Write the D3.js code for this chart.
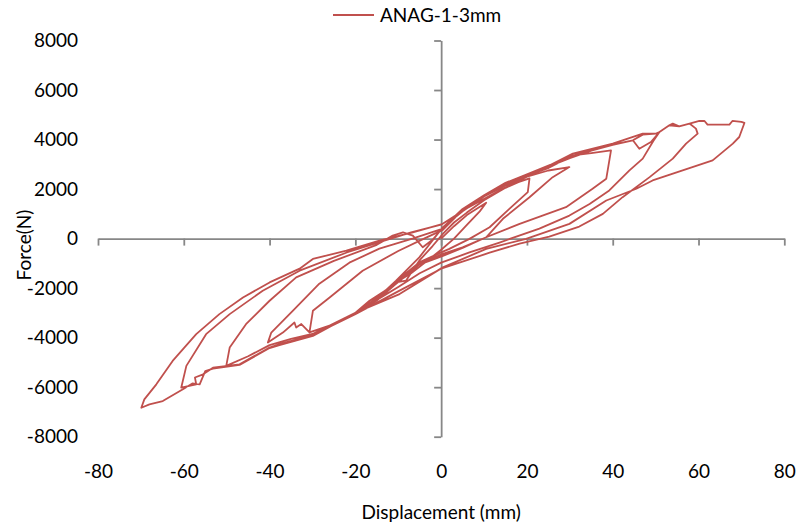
<!DOCTYPE html>
<html><head><meta charset="utf-8">
<script src="https://cdn.jsdelivr.net/npm/d3@7"></script>
<style>
html,body{margin:0;padding:0;background:#fff;}
text{font-family:Lato,"Open Sans",sans-serif;}
</style></head>
<body><svg id="c" width="796" height="526"></svg>
<script>
// ---- data ----
const seriesName = "ANAG-1-3mm";
const xTicks = [-80,-60,-40,-20,0,20,40,60,80];
const yTicks = [-8000,-6000,-4000,-2000,0,2000,4000,6000,8000];
const xTitle = "Displacement (mm)";
const yTitle = "Force(N)";
// [displacement (mm), force (N)] pairs, cycle by cycle
const cycle10 = [[0,0],[3,500],[6,950],[10.5,1450],[9,1100],[6,550],[3,0],[0,-450],[-4,-1000],[-7,-1400],[-10.5,-1770],[-8.2,-1700],[-6.5,-1250],[-5.1,-890],[-2,-300],[0.4,190]];
const cycle20 = [[3,650],[6,1050],[10,1550],[15,2050],[18,2280],[20.6,2430],[20.2,1875],[15.9,1200],[11.3,458],[6.6,-12],[1.9,-417],[0,-555],[-5.1,-960],[-10,-1650],[-15,-2400],[-19.9,-2980],[-16.7,-2511],[-13,-2100],[-10.5,-1700],[-5.1,-757],[0.4,458]];
const cycle30 = [[5,1100],[10,1700],[15,2150],[20,2500],[25,2750],[29.9,2890],[26,2480],[20.6,1670],[14.4,800],[10.5,53],[5,-380],[0.4,-700],[-5.1,-1050],[-10,-1750],[-15,-2450],[-20,-3000],[-25,-3450],[-30.7,-3790],[-29.9,-2916],[-26,-2377],[-18.3,-1296],[-10,-500],[-4,0],[0.4,350]];
const cycle40 = [[5,1150],[10,1700],[15,2200],[20,2550],[25,2850],[30.7,3360],[35,3450],[39.6,3560],[38.5,2418],[35.3,2013],[29.1,1268],[18.3,595],[10.5,53],[5,-350],[0.4,-620],[-5.1,-1000],[-10,-1750],[-15,-2500],[-20,-3000],[-25,-3450],[-30.7,-3790],[-32.6,-3450],[-33.8,-3590],[-34.2,-3390],[-36.9,-3795],[-40.4,-4200],[-39.6,-3795],[-34.6,-2916],[-28.4,-1823],[-21.4,-972],[-14.4,-405],[-6.7,0],[0.4,400]];
const cycle50 = [[5,1200],[10,1750],[15,2200],[20,2550],[25,2900],[30,3250],[35,3550],[40,3780],[44.7,3970],[47,4200],[50.1,4240],[50.9,4305],[49.5,3950],[47,3230],[43.9,2754],[39.2,1944],[34.6,1400],[29.9,930],[22.9,405],[13.6,-160],[6.6,-560],[0,-970],[-5,-1400],[-10,-1950],[-20,-3000],[-30,-3850],[-35,-4050],[-40,-4300],[-45,-4750],[-50.1,-5140],[-49.3,-4400],[-45.5,-3455],[-40,-2510],[-33.8,-1567],[-25,-900],[-15,-250],[-11.3,120],[-8.9,255],[-6.6,120],[-4.3,-350],[-2,-50],[0.4,450]];
const cycle60 = [[5,1200],[10,1750],[15,2250],[20,2600],[25,2950],[30,3300],[35,3600],[40,3800],[44.7,3970],[46.2,3630],[48.9,3900],[50.9,4305],[53.2,4577],[55.5,4536],[57.9,4645],[59.4,4440],[59.8,4240],[57.1,3835],[54,3228],[48.6,2483],[42.3,1673],[37.7,1000],[32.2,486],[25.2,81],[18.3,-200],[11.3,-570],[0,-1215],[-9.7,-2100],[-20,-3050],[-30,-3900],[-37.7,-4265],[-40,-4400],[-47,-5075],[-53.2,-5212],[-55.5,-5480],[-57.4,-5610],[-57.1,-5885],[-60.6,-6020],[-59.4,-5140],[-54.8,-3860],[-49.3,-3050],[-41.6,-2106],[-33,-1296],[-22,-560],[-14,-120],[-7,250],[0,560]];
const cycle70 = [[5.8,1203],[13.6,1944],[21.4,2620],[30.7,3430],[40,3835],[47,4240],[50.1,4240],[50.9,4305],[53.2,4577],[54,4645],[55.5,4536],[57.9,4645],[60.2,4750],[61.4,4750],[62.1,4605],[67.2,4605],[67.9,4750],[70,4710],[70.7,4670],[69.5,4103],[68,3835],[63.3,3159],[56.3,2754],[49.3,2349],[45.5,2013],[38.5,1539],[29.9,595],[19.8,-12],[10.5,-417],[0.4,-1162],[-9.7,-2240],[-19.8,-2980],[-29.9,-3929],[-37.7,-4300],[-40,-4420],[-47,-5100],[-53.2,-5250],[-55,-5350],[-56.3,-5885],[-58,-5850],[-60.2,-6087],[-64.9,-6561],[-68,-6695],[-69.9,-6832],[-69.2,-6492],[-66.4,-5885],[-62.6,-4941],[-57.1,-3860],[-51.7,-3050],[-46.2,-2377],[-40,-1770],[-33,-1215],[-29.9,-822],[-22.1,-486],[-14.4,-81],[-6.6,255],[0.4,595]];
const cycles = [cycle10, cycle20, cycle30, cycle40, cycle50, cycle60, cycle70];

// ---- drawing ----
const svg = d3.select("#c");
const x = d3.scaleLinear().domain([-80,80]).range([98,784.3]);
const y = d3.scaleLinear().domain([-8000,8000]).range([436.7,40.5]);
const axisColor = "#878787";
const fs = 19;
const fmt = d => String(d);

const yAxis = svg.append("g").attr("transform",`translate(${x(0)},0)`)
  .call(d3.axisLeft(y).tickValues(yTicks).tickSize(7).tickSizeOuter(0)
        .tickPadding(x(0)-78-7).tickFormat(fmt));
const xAxis = svg.append("g").attr("transform",`translate(0,${y(0)})`)
  .call(d3.axisBottom(x).tickValues(xTicks).tickSize(7).tickSizeOuter(0)
        .tickPadding(219).tickFormat(fmt));
[yAxis,xAxis].forEach(g=>{
  g.select(".domain").attr("stroke",axisColor).attr("stroke-width",1.8);
  g.selectAll(".tick line").attr("stroke",axisColor).attr("stroke-width",1.8);
  g.selectAll(".tick text").attr("fill","#000").style("font-size",fs+"px")
   .style("font-family","Lato, sans-serif");
});

const line = d3.line().x(d=>x(d[0])).y(d=>y(d[1]));
const allPts = [].concat(...cycles);
svg.append("path").datum(allPts).attr("d",line)
  .attr("fill","none").attr("stroke","#C0504D").attr("stroke-width",1.8)
  .attr("stroke-linejoin","round");

svg.append("text").attr("x",x(0)).attr("y",519).attr("text-anchor","middle")
  .style("font-size",fs+"px").text(xTitle);
svg.append("text").attr("transform",`translate(31,${245}) rotate(-90)`)
  .attr("text-anchor","middle").style("font-size",fs+"px").text(yTitle);

// legend
svg.append("line").attr("x1",333).attr("x2",374).attr("y1",15).attr("y2",15)
  .attr("stroke","#C0504D").attr("stroke-width",1.8);
svg.append("text").attr("x",380).attr("y",22).style("font-size",fs+"px").text(seriesName);
</script></body></html>
